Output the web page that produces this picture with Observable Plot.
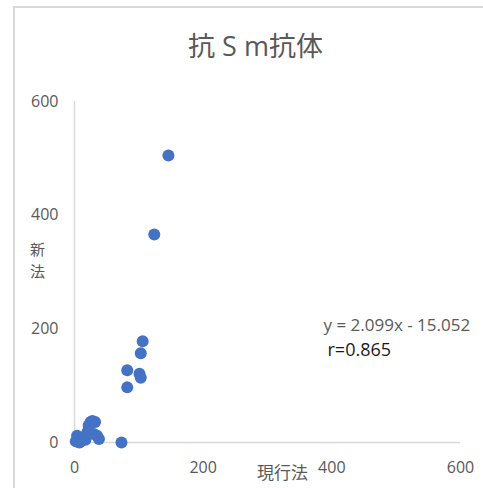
<!DOCTYPE html>
<html>
<head>
<meta charset="utf-8">
<script src="https://cdn.jsdelivr.net/npm/d3@7"></script>
<script src="https://cdn.jsdelivr.net/npm/@observablehq/plot@0.6"></script>
<style>
  html, body { margin: 0; padding: 0; background: #fff; }
  #wrap { position: relative; width: 483px; height: 488px; overflow: hidden; }
  #border { position: absolute; left: 13px; top: 6px; width: 600px; height: 600px;
            border-left: 2px solid #d9d9d9; border-top: 2px solid #d9d9d9; }
  #chart { position: absolute; left: 0; top: 0; }
</style>
</head>
<body>
<div id="wrap"><div id="border"></div><div id="chart"></div></div>
<script>
const title = "抗 S m抗体";
const xLabel = "現行法";
const yLabel = ["新", "法"];
const equation = "y = 2.099x - 15.052";
const rText = "r=0.865";
const ticks = [0, 200, 400, 600];

const xValues = [146, 124, 106, 103, 82, 101, 103, 82, 73, 2, 4, 6, 9, 11, 14, 17, 20, 22, 25, 28, 32, 35, 38, 30, 8];
const yValues = [505, 366, 178, 157, 127, 121, 114, 97, 0, 2, 12, 1, 4, 3, 8, 5, 18, 30, 36, 38, 36, 12, 6, 15, 0];

const data = xValues.map((x, i) => ({x, y: yValues[i]}));
const font = "'Open Sans', 'Noto Sans CJK JP', sans-serif";

const plot = Plot.plot({
  width: 483,
  height: 488,
  marginLeft: 74,
  marginRight: 23,
  marginTop: 101,
  marginBottom: 46,
  style: {fontFamily: font, fontSize: "16px", color: "#595959", background: "transparent"},
  x: {domain: [0, 600], ticks: ticks, tickSize: 0, tickPadding: 19, label: null},
  y: {domain: [0, 600], ticks: ticks, tickSize: 0, tickPadding: 16, label: null},
  marks: [
    Plot.ruleY([0], {stroke: "#d9d9d9", strokeWidth: 1.5}),
    Plot.ruleX([0], {stroke: "#d9d9d9", strokeWidth: 1.5}),
    Plot.dot(data, {x: "x", y: "y", r: 6, fill: "#4472C4", stroke: "none"}),
    Plot.text([title], {frameAnchor: "top", dx: -12, dy: -54, fontSize: 27, fill: "#595959", lineAnchor: "middle"}),
    Plot.text([yLabel[0]], {frameAnchor: "left", dx: -37, dy: -22, fontSize: 15, fill: "#595959", lineAnchor: "middle", textAnchor: "middle"}),
    Plot.text([yLabel[1]], {frameAnchor: "left", dx: -37, dy: 0, fontSize: 15, fill: "#595959", lineAnchor: "middle", textAnchor: "middle"}),
    Plot.text([xLabel], {frameAnchor: "bottom-left", dx: 208, dy: 31, fontSize: 17, fill: "#595959", lineAnchor: "middle", textAnchor: "middle"}),
    Plot.text([equation], {frameAnchor: "top-left", dx: 249, dy: 224, fontSize: 17, fill: "#595959", lineAnchor: "middle", textAnchor: "start"}),
    Plot.text([rText], {frameAnchor: "top-left", dx: 253, dy: 249, fontSize: 18, fill: "#1a1a1a", lineAnchor: "middle", textAnchor: "start"})
  ]
});
document.getElementById("chart").appendChild(plot);
</script>
</body>
</html>
